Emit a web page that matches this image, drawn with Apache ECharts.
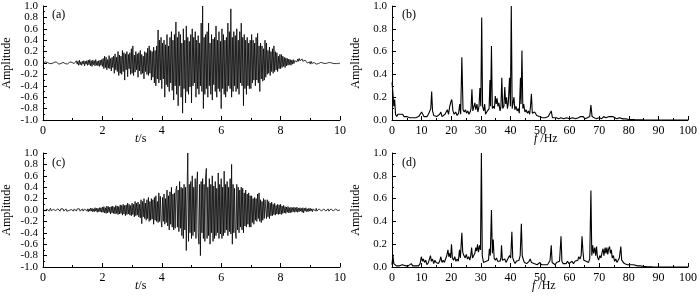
<!DOCTYPE html>
<html>
<head>
<meta charset="utf-8">
<script src="https://cdn.jsdelivr.net/npm/echarts@6/dist/echarts.min.js"></script>
<style>
html, body { margin: 0; padding: 0; background: #fff; }
#chart { width: 700px; height: 296px; }
</style>
</head>
<body>
<div id="chart"></div>
<script>
// 采样间隔 (s)
var dt = 0.025;

// (a) 时程 0~10s
var sigA = [
	0.00, 0.01, -0.01, 0.02, -0.01, 0.00, 0.01, -0.02, 0.01, -0.01, 0.02, 0.00, -0.01, 0.01, -0.02, 0.01, 0.00, -0.01, 0.02, -0.01,
	0.01, -0.02, 0.01, 0.00, -0.01, 0.02, -0.01, 0.01, -0.02, 0.03, -0.01, 0.00, 0.01, -0.02, 0.01, -0.01, 0.02, -0.01, 0.00, 0.01,
	-0.02, 0.01, -0.01, 0.02, -0.03, 0.04, -0.02, 0.03, -0.04, 0.05, -0.03, 0.02, -0.04, 0.03, -0.02, 0.04, -0.05, 0.03, -0.02, 0.04,
	-0.04, 0.05, -0.03, 0.06, -0.05, 0.04, -0.06, 0.05, -0.03, 0.04, -0.05, 0.06, -0.04, 0.03, -0.05, 0.04, -0.06, 0.05, -0.04, 0.06,
	-0.06, 0.08, -0.10, 0.12, -0.08, 0.10, -0.12, 0.06, -0.09, 0.13, -0.10, 0.08, -0.14, 0.10, -0.08, 0.12, -0.18, 0.16, -0.12, 0.10,
	-0.15, 0.20, -0.22, 0.14, -0.18, 0.12, -0.20, 0.22, -0.15, 0.18, -0.30, 0.16, -0.12, 0.20, -0.24, 0.15, -0.10, 0.18, -0.20, 0.25,
	-0.18, 0.30, -0.22, 0.14, -0.16, 0.20, -0.12, 0.16, -0.25, 0.18, -0.14, 0.22, -0.20, 0.15, -0.18, 0.12, -0.28, 0.20, -0.15, 0.18,
	-0.20, 0.26, -0.22, 0.30, -0.18, 0.22, -0.30, 0.20, -0.25, 0.28, -0.35, 0.22, -0.40, 0.30, -0.28, 0.58, -0.35, 0.40, -0.30, 0.45,
	-0.45, 0.35, -0.28, 0.40, -0.60, 0.32, -0.38, 0.50, -0.42, 0.30, -0.50, 0.45, -0.35, 0.55, -0.48, 0.40, -0.65, 0.50, -0.40, 0.72,
	-0.55, 0.45, -0.75, 0.55, -0.40, 0.50, -0.60, 0.35, -0.88, 0.60, -0.45, 0.40, -0.70, 0.65, -0.50, 0.45, -0.55, 0.38, -0.42, 0.50,
	-0.70, 0.60, -0.40, 0.45, -0.35, 0.55, -0.60, 0.40, -0.45, 0.48, -0.55, 0.35, -0.40, 0.70, -0.50, 1.00, -0.80, 0.45, -0.55, 0.50,
	-0.45, 0.55, -0.60, 0.70, -0.40, 0.35, -0.55, 0.50, -0.65, 0.42, -0.38, 0.45, -0.50, 0.65, -0.60, 0.40, -0.45, 0.55, -0.50, 0.38,
	-0.80, 0.60, -0.45, 0.50, -0.55, 0.40, -0.60, 0.45, -0.50, 0.70, -0.40, 0.55, -0.45, 0.95, -0.60, 0.45, -0.50, 0.55, -0.40, 0.48,
	-0.50, 0.60, -0.45, 0.40, -0.55, 0.55, -0.35, 0.70, -0.40, 0.45, -0.75, 0.50, -0.45, 0.40, -0.55, 0.45, -0.40, 0.35, -0.45, 0.40,
	-0.45, 0.50, -0.35, 0.40, -0.30, 0.35, -0.40, 0.45, -0.30, 0.52, -0.35, 0.30, -0.50, 0.35, -0.28, 0.30, -0.32, 0.25, -0.30, 0.40,
	-0.25, 0.35, -0.20, 0.22, -0.18, 0.28, -0.22, 0.20, -0.15, 0.25, -0.18, 0.30, -0.15, 0.20, -0.12, 0.18, -0.15, 0.12, -0.10, 0.15,
	-0.10, 0.15, -0.08, 0.12, -0.06, 0.10, -0.08, 0.09, -0.05, 0.08, -0.04, 0.07, -0.03, 0.06, -0.04, 0.05, -0.02, 0.06, -0.01, 0.04,
	0.01, 0.06, 0.02, 0.07, 0.03, 0.08, 0.04, 0.06, 0.02, 0.07, 0.03, 0.06, 0.01, 0.05, 0.02, 0.04, 0.00, 0.03, -0.01, 0.02,
	-0.02, 0.03, -0.01, 0.02, -0.02, 0.01, -0.01, 0.02, -0.02, 0.01, 0.00, -0.01, 0.02, -0.01, 0.01, -0.02, 0.01, 0.00, -0.01, 0.01,
	-0.01, 0.02, -0.01, 0.00, 0.01, -0.02, 0.01, -0.01, 0.02, 0.00, -0.01, 0.01, -0.01, 0.00, 0.01, -0.01, 0.00, 0.01, -0.01, 0.00, 0.00
];

// (c) 时程 0~10s
var sigC = [
	0.02, -0.01, 0.03, -0.02, 0.01, 0.02, -0.01, 0.02, -0.02, 0.01, 0.03, -0.01, 0.02, -0.02, 0.01, 0.00, 0.02, -0.01, 0.01, -0.02,
	0.02, -0.01, 0.01, -0.02, 0.02, 0.00, -0.01, 0.02, -0.02, 0.01, -0.01, 0.02, -0.02, 0.01, 0.00, -0.01, 0.02, -0.02, 0.01, -0.01,
	0.01, -0.02, 0.02, -0.01, 0.01, -0.02, 0.02, 0.00, -0.01, 0.02, -0.02, 0.01, -0.01, 0.02, -0.02, 0.01, 0.02, -0.01, 0.01, -0.02,
	0.02, -0.03, 0.02, -0.02, 0.03, -0.02, 0.03, -0.03, 0.02, -0.03, 0.04, -0.02, 0.03, -0.04, 0.03, -0.03, 0.04, -0.03, 0.04, -0.04,
	0.05, -0.04, 0.06, -0.05, 0.04, -0.06, 0.07, -0.05, 0.06, -0.04, 0.05, -0.07, 0.06, -0.05, 0.07, -0.06, 0.05, -0.07, 0.08, -0.06,
	0.07, -0.08, 0.06, -0.07, 0.09, -0.06, 0.08, -0.09, 0.10, -0.07, 0.08, -0.10, 0.09, -0.08, 0.12, -0.07, 0.10, -0.09, 0.08, -0.10,
	0.12, -0.08, 0.10, -0.12, 0.15, -0.10, 0.12, -0.09, 0.14, -0.12, 0.10, -0.14, 0.18, -0.24, 0.15, -0.12, 0.20, -0.15, 0.12, -0.18,
	0.18, -0.15, 0.22, -0.20, 0.15, -0.18, 0.20, -0.16, 0.18, -0.25, 0.22, -0.18, 0.25, -0.20, 0.15, -0.22, 0.30, -0.20, 0.24, -0.18,
	-0.30, 0.22, -0.20, 0.28, -0.25, 0.20, -0.22, 0.35, -0.28, 0.25, -0.35, 0.32, -0.25, 0.40, -0.30, 0.28, -0.35, 0.30, -0.32, 0.35,
	0.42, -0.30, 0.35, -0.38, 0.50, -0.32, 0.40, -0.45, 0.38, -0.50, 0.45, -0.35, 0.40, -0.71, 0.30, 1.00, -0.55, 0.45, -0.40, 0.50,
	-0.50, 0.60, -0.45, 0.40, -0.38, 0.55, -0.50, 0.45, 0.67, -0.40, -0.60, 0.45, -0.80, 0.50, -0.40, 0.55, -0.50, 0.45, -0.55, 0.60,
	0.73, -0.50, 0.40, -0.45, 0.55, -0.60, 0.45, -0.40, 0.60, -0.55, 0.42, -0.50, 0.50, -0.45, 0.38, -0.40, 0.65, -0.50, 0.45, -0.42,
	0.55, -0.50, 0.40, -0.45, 0.68, -0.40, 0.45, -0.35, 0.50, -0.45, 0.40, -0.38, 0.55, -0.42, 0.80, -0.60, 0.45, -0.40, 0.38, -0.35,
	-0.50, 0.45, -0.35, 0.40, -0.40, 0.35, -0.30, 0.40, -0.35, 0.38, -0.40, 0.30, -0.28, 0.35, -0.30, 0.28, -0.25, 0.30, -0.30, 0.25,
	-0.30, 0.25, -0.22, 0.20, -0.25, 0.22, -0.18, 0.20, -0.20, 0.28, -0.15, 0.30, -0.20, 0.18, -0.22, 0.15, -0.18, 0.20, -0.15, 0.18,
	0.20, -0.15, 0.18, -0.12, 0.15, -0.15, 0.12, -0.10, 0.14, -0.10, 0.10, -0.08, 0.12, -0.09, 0.08, -0.07, 0.10, -0.08, 0.09, -0.07,
	0.10, -0.08, 0.07, -0.06, 0.08, -0.05, 0.06, -0.06, 0.05, -0.04, 0.06, -0.05, 0.04, -0.05, 0.05, -0.04, 0.04, -0.03, 0.05, -0.04,
	0.04, -0.03, 0.05, -0.04, 0.03, -0.03, 0.04, -0.02, 0.03, -0.04, 0.04, -0.05, 0.03, -0.02, 0.04, -0.03, 0.02, -0.03, 0.03, -0.02,
	0.03, -0.02, 0.02, -0.03, 0.02, -0.01, 0.02, -0.02, 0.03, -0.02, 0.01, -0.02, 0.02, -0.01, 0.02, -0.02, 0.01, -0.01, 0.02, -0.01,
	0.02, -0.02, 0.01, -0.01, 0.02, -0.02, 0.01, -0.01, 0.02, -0.01, 0.01, -0.02, 0.01, -0.01, 0.02, -0.01, 0.01, -0.01, 0.01, -0.01, 0.00
];

// (b) 频谱 [f(Hz), 幅值]
var specB = [
	[0,0.33],[0.3,0.24],[0.6,0.12],[0.9,0.18],[1.2,0.05],[1.6,0.03],[2.0,0.05],[2.4,0.04],[2.8,0.05],[3.2,0.04],
	[3.6,0.05],[4.0,0.03],[4.5,0.04],[5.0,0.03],[5.5,0.04],[6.0,0.02],[6.5,0.03],[7.0,0.02],[7.5,0.03],[8.0,0.02],
	[8.5,0.02],[9.0,0.03],[9.5,0.02],[10.0,0.07],[10.4,0.05],[10.8,0.03],[11.3,0.04],[11.8,0.03],[12.3,0.05],[12.8,0.04],
	[13.1,0.10],[13.4,0.25],[13.7,0.08],[14.1,0.04],[14.6,0.05],[15.1,0.03],[15.6,0.04],[16.1,0.05],[16.5,0.07],[16.9,0.03],
	[17.4,0.04],[17.9,0.05],[18.3,0.06],[18.7,0.09],[19.1,0.05],[19.5,0.12],[19.9,0.16],[20.2,0.18],[20.6,0.08],[21.0,0.05],
	[21.5,0.07],[22.0,0.04],[22.5,0.06],[22.9,0.14],[23.2,0.05],[23.6,0.55],[24.0,0.09],[24.4,0.07],[24.8,0.09],[25.2,0.06],
	[25.6,0.08],[26.0,0.05],[26.4,0.07],[26.7,0.10],[27.0,0.27],[27.3,0.08],[27.7,0.12],[28.0,0.15],[28.3,0.09],[28.7,0.14],
	[29.0,0.07],[29.4,0.12],[29.7,0.28],[30.0,0.12],[30.3,0.90],[30.6,0.12],[31.0,0.08],[31.3,0.14],[31.6,0.05],[32.0,0.07],
	[32.4,0.06],[32.8,0.10],[33.1,0.35],[33.3,0.12],[33.6,0.65],[33.9,0.10],[34.2,0.12],[34.6,0.10],[34.9,0.21],[35.2,0.14],
	[35.5,0.19],[35.8,0.12],[36.1,0.15],[36.5,0.08],[36.8,0.12],[37.1,0.37],[37.4,0.10],[37.8,0.12],[38.1,0.29],[38.4,0.14],
	[38.7,0.20],[39.0,0.10],[39.3,0.15],[39.7,0.37],[40.0,0.12],[40.3,1.00],[40.6,0.10],[40.9,0.15],[41.2,0.20],[41.5,0.09],
	[41.9,0.12],[42.3,0.08],[42.7,0.10],[43.0,0.06],[43.4,0.37],[43.6,0.14],[43.9,0.61],[44.2,0.10],[44.5,0.14],[44.9,0.07],
	[45.3,0.09],[45.7,0.06],[46.1,0.08],[46.5,0.05],[46.8,0.12],[47.1,0.23],[47.4,0.06],[47.8,0.05],[48.2,0.07],[48.5,0.08],
	[48.9,0.04],[49.3,0.05],[49.8,0.03],[50.3,0.03],[50.8,0.02],[51.3,0.03],[51.8,0.02],[52.3,0.02],[52.8,0.03],[53.3,0.02],
	[53.8,0.08],[54.2,0.02],[54.7,0.01],[55.5,0.02],[56.3,0.01],[57.0,0.02],[58.0,0.01],[59.0,0.02],[60.0,0.01],[61.0,0.02],
	[62.0,0.01],[63.0,0.02],[63.7,0.03],[64.2,0.02],[64.6,0.03],[65.2,0.01],[66.0,0.02],[66.8,0.03],[67.2,0.13],[67.6,0.03],
	[68.2,0.02],[69.0,0.01],[70.0,0.02],[70.8,0.01],[71.5,0.03],[72.2,0.02],[72.8,0.03],[73.4,0.03],[74.0,0.02],[74.6,0.03],
	[75.3,0.02],[76.0,0.01],[76.8,0.02],[77.4,0.03],[78.0,0.01],[79.0,0.01],[80.0,0.005],[82.0,0.003],[85.0,0.001],[90.0,0],[100,0]
];

// (d) 频谱 [f(Hz), 幅值]
var specD = [
	[0,0.02],[0.3,0.11],[0.6,0.03],[1.0,0.02],[1.5,0.01],[2.0,0.02],[2.5,0.01],[3.0,0.01],[3.5,0.02],[4.0,0.01],
	[4.5,0.01],[5.0,0.02],[5.5,0.01],[6.0,0.02],[6.5,0.03],[7.0,0.01],[7.5,0.02],[8.0,0.01],[8.5,0.02],[9.0,0.01],
	[9.5,0.03],[9.9,0.09],[10.3,0.05],[10.6,0.07],[11.0,0.04],[11.4,0.06],[11.8,0.02],[12.3,0.04],[12.7,0.03],[13.0,0.10],
	[13.3,0.05],[13.7,0.07],[14.1,0.03],[14.5,0.06],[14.9,0.04],[15.3,0.05],[15.7,0.03],[16.1,0.05],[16.5,0.09],[16.9,0.04],
	[17.3,0.06],[17.7,0.04],[18.1,0.07],[18.5,0.10],[18.9,0.15],[19.2,0.09],[19.5,0.12],[19.8,0.08],[20.1,0.20],[20.4,0.08],
	[20.8,0.06],[21.2,0.09],[21.6,0.05],[22.0,0.07],[22.4,0.05],[22.8,0.15],[23.1,0.08],[23.6,0.30],[23.9,0.13],[24.3,0.10],
	[24.7,0.08],[25.1,0.11],[25.5,0.07],[25.9,0.09],[26.3,0.06],[26.6,0.10],[26.9,0.17],[27.2,0.08],[27.6,0.10],[28.0,0.12],
	[28.3,0.17],[28.6,0.14],[28.9,0.20],[29.2,0.13],[29.6,0.19],[29.9,0.15],[30.2,1.00],[30.5,0.10],[30.9,0.04],[31.3,0.03],
	[31.8,0.05],[32.2,0.04],[32.6,0.06],[32.9,0.16],[33.2,0.10],[33.6,0.50],[33.9,0.12],[34.2,0.24],[34.5,0.08],[34.9,0.06],
	[35.3,0.08],[35.7,0.05],[36.1,0.06],[36.5,0.05],[36.8,0.08],[37.0,0.19],[37.3,0.06],[37.7,0.05],[38.1,0.07],[38.5,0.04],
	[38.9,0.06],[39.3,0.05],[39.7,0.10],[40.1,0.08],[40.5,0.31],[40.8,0.08],[41.2,0.05],[41.6,0.03],[42.0,0.05],[42.5,0.04],
	[42.9,0.06],[43.3,0.10],[43.7,0.38],[44.0,0.10],[44.3,0.07],[44.7,0.04],[45.1,0.05],[45.5,0.03],[45.9,0.04],[46.3,0.05],
	[46.7,0.07],[47.1,0.04],[47.5,0.05],[48.0,0.03],[48.5,0.04],[49.0,0.02],[49.5,0.03],[50.0,0.04],[50.5,0.02],[51.0,0.03],
	[51.5,0.02],[52.0,0.03],[52.5,0.02],[53.0,0.04],[53.4,0.06],[53.8,0.19],[54.1,0.04],[54.6,0.03],[55.1,0.02],[55.6,0.04],
	[56.1,0.03],[56.6,0.05],[57.1,0.27],[57.4,0.05],[57.8,0.03],[58.3,0.04],[58.8,0.03],[59.3,0.05],[59.8,0.03],[60.3,0.04],
	[60.8,0.05],[61.3,0.03],[61.8,0.05],[62.3,0.04],[62.8,0.06],[63.1,0.09],[63.5,0.07],[63.9,0.10],[64.2,0.27],[64.5,0.14],
	[64.8,0.06],[65.2,0.07],[65.6,0.05],[66.0,0.06],[66.4,0.04],[66.8,0.07],[67.2,0.67],[67.5,0.10],[67.8,0.19],[68.1,0.12],
	[68.5,0.17],[68.8,0.10],[69.1,0.18],[69.4,0.09],[69.8,0.06],[70.2,0.10],[70.6,0.08],[71.0,0.13],[71.3,0.16],[71.6,0.10],
	[72.0,0.17],[72.3,0.12],[72.6,0.17],[72.9,0.11],[73.2,0.16],[73.5,0.18],[73.8,0.12],[74.1,0.15],[74.4,0.08],[74.8,0.10],
	[75.2,0.05],[75.6,0.07],[76.0,0.04],[76.4,0.06],[76.8,0.08],[77.3,0.18],[77.6,0.06],[78.0,0.05],[78.5,0.03],[79.0,0.04],
	[79.5,0.02],[80.0,0.03],[80.5,0.02],[81.0,0.03],[81.5,0.02],[82.0,0.02],[83.0,0.01],[84.0,0.01],[85.0,0.005],[86.0,0.003],
	[88.0,0.001],[90,0],[100,0]
];

var panelLabels = [ '(a)', '(b)', '(c)', '(d)' ];

var FONT = '"Liberation Serif", "Times New Roman", serif';

// 时程数据转为 [t, y]
function toTime(arr) {
	var out = [];
	for (var i = 0; i < arr.length; i++) {
		out.push([ +(i * dt).toFixed(3), arr[i] ]);
	}
	return out;
}

function xAxisOf(grid, max, interval) {
	return {
		gridIndex : grid,
		type : 'value',
		min : 0,
		max : max,
		interval : interval,
		axisLine : { onZero : false, lineStyle : { color : '#000', width : 1 } },
		axisTick : { inside : true, length : 4, lineStyle : { color : '#000' } },
		minorTick : { show : true, splitNumber : 2, length : 2, lineStyle : { color : '#000' } },
		splitLine : { show : false },
		axisLabel : { color : '#000', fontFamily : FONT, fontSize : 12, margin : 5, showMinLabel : true, showMaxLabel : true }
	};
}

function yAxisOf(grid, min, max) {
	return {
		gridIndex : grid,
		type : 'value',
		min : min,
		max : max,
		interval : 0.2,
		name : 'Amplitude',
		nameLocation : 'middle',
		nameGap : 30,
		nameTextStyle : { color : '#000', fontFamily : FONT, fontSize : 12 },
		axisLine : { show : true, onZero : false, lineStyle : { color : '#000', width : 1 } },
		axisTick : { inside : true, length : 4, lineStyle : { color : '#000' } },
		minorTick : { show : true, splitNumber : 2, length : 2, lineStyle : { color : '#000' } },
		splitLine : { show : false },
		axisLabel : {
			color : '#000', fontFamily : FONT, fontSize : 11, margin : 5,
			showMinLabel : true, showMaxLabel : true, hideOverlap : false,
			formatter : function(v) { return v.toFixed(1); }
		}
	};
}

function lineOf(idx, data, w) {
	return {
		type : 'line',
		xAxisIndex : idx,
		yAxisIndex : idx,
		data : data,
		showSymbol : false,
		symbol : 'none',
		lineStyle : { color : '#000', width : w },
		silent : true
	};
}

function textOf(left, top, text) {
	return {
		type : 'text',
		left : left,
		top : top,
		style : {
			text : text,
			fill : '#000',
			font : '12px ' + FONT,
			rich : { i : { fontStyle : 'italic', fontFamily : FONT, fontSize : 12, fill : '#000' } }
		}
	};
}

var option = {
	animation : false,
	backgroundColor : '#fff',
	grid : [
		{ left : 43, top : 6, width : 297, height : 114 },
		{ left : 392, top : 6, width : 298, height : 114 },
		{ left : 43, top : 153, width : 297, height : 114 },
		{ left : 392, top : 153, width : 298, height : 114 }
	],
	xAxis : [ xAxisOf(0, 10, 2), xAxisOf(1, 100, 10), xAxisOf(2, 10, 2), xAxisOf(3, 100, 10) ],
	yAxis : [ yAxisOf(0, -1, 1), yAxisOf(1, 0, 1), yAxisOf(2, -1, 1), yAxisOf(3, 0, 1) ],
	series : [
		lineOf(0, toTime(sigA), 0.8),
		lineOf(1, specB, 1.1),
		lineOf(2, toTime(sigC), 0.8),
		lineOf(3, specD, 1.1)
	],
	graphic : [
		textOf(52, 9, panelLabels[0]),
		textOf(402, 9, panelLabels[1]),
		textOf(52, 157, panelLabels[2]),
		textOf(402, 157, panelLabels[3]),
		textOf(135, 133, '{i|t}/s'),
		textOf(534, 133, '{i|f} /Hz'),
		textOf(135, 280, '{i|t}/s'),
		textOf(532, 280, '{i|f} /Hz')
	]
};

var myChart = echarts.init(document.getElementById('chart'), null, { renderer : 'canvas' });
myChart.setOption(option, true);
</script>
</body>
</html>
